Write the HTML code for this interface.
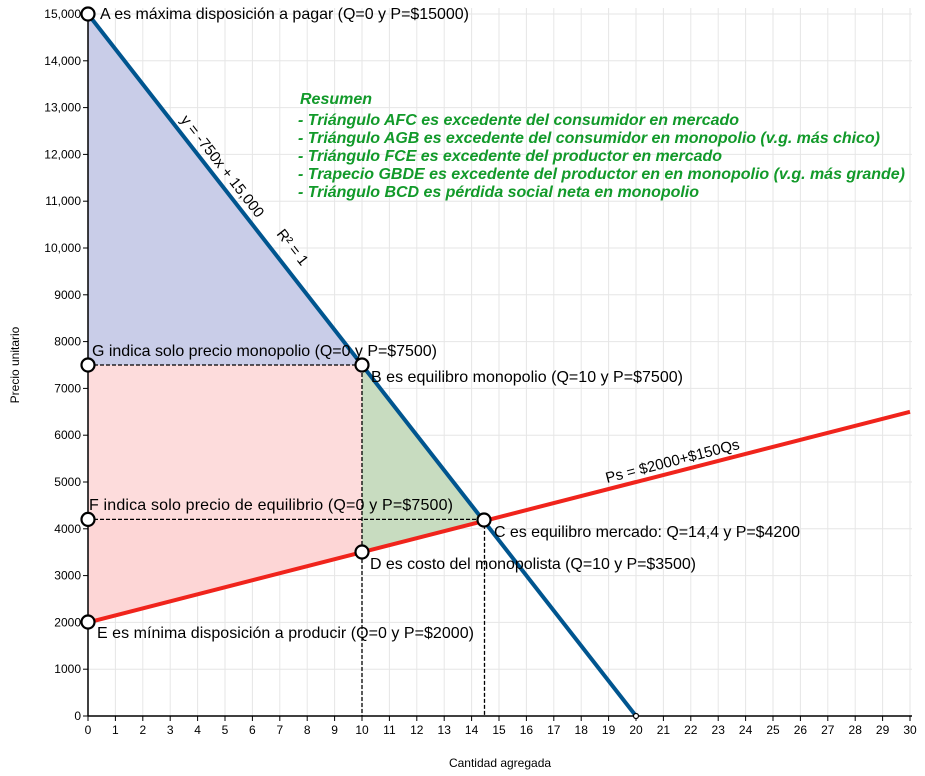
<!DOCTYPE html>
<html><head><meta charset="utf-8"><style>body{margin:0;background:#fff}svg{display:block;font-family:"Liberation Sans",sans-serif}</style></head><body>
<svg width="925" height="776" viewBox="0 0 925 776" xmlns="http://www.w3.org/2000/svg">
<g id="grid" stroke="#e6e6e6" stroke-width="1"></g>
<polygon points="88,14 362,365 88,365" fill="#c9cde8"/>
<polygon points="88,365 362,365 362,552.2 88,622.4" fill="#fddcdc"/>
<polygon points="362,365 482.6,519.4 362,552.2" fill="#c8dcc0"/>
<polygon points="88,519.4 362,519.4 362,552.2 88,622.4" fill="#fdd0d0" opacity="0.5"/>
<g stroke="#000" stroke-width="1.3" stroke-dasharray="4,2" fill="none">
<path d="M88,365H362V716"/><path d="M88,519.4H484.5V716"/>
</g>
<line x1="88" y1="622.4" x2="910" y2="411.8" stroke="#f0241c" stroke-width="4"/>
<line x1="88" y1="14" x2="636" y2="716" stroke="#00558f" stroke-width="4"/>
<g stroke="#000" stroke-width="1.5"><line x1="88" y1="8" x2="88" y2="716"/><line x1="88" y1="716" x2="912" y2="716"/></g>
<g id="ticks" stroke="#000" stroke-width="1"></g>
<g id="lbl" font-size="12" fill="#000"></g>
<g fill="#fff" stroke="#000" stroke-width="2.2">
<circle cx="88" cy="14" r="6.5"/><circle cx="88" cy="365" r="6.5"/><circle cx="362" cy="365" r="6.5"/>
<circle cx="88" cy="519.4" r="6.5"/><circle cx="484" cy="520" r="6.5"/><circle cx="362" cy="552" r="6.5"/>
<circle cx="88" cy="622" r="6.5"/><circle cx="636" cy="716" r="2.5" stroke-width="1.2"/>
</g>
<g font-size="16" fill="#000">
<text x="100" y="19" textLength="369">A es máxima disposición a pagar (Q=0 y P=$15000)</text>
<text x="92" y="356" textLength="345">G indica solo precio monopolio (Q=0 y P=$7500)</text>
<text x="371" y="382" textLength="312">B es equilibro monopolio (Q=10 y P=$7500)</text>
<text x="89" y="510" textLength="364">F indica solo precio de equilibrio (Q=0 y P=$7500)</text>
<text x="494" y="537" textLength="306">C es equilibro mercado: Q=14,4 y P=$4200</text>
<text x="370" y="569" textLength="326">D es costo del monopolista (Q=10 y P=$3500)</text>
<text x="97" y="638" textLength="377">E es mínima disposición a producir  (Q=0 y P=$2000)</text>
<text transform="translate(180,120) rotate(52)" font-size="15">y = -750x + 15,000</text>
<text transform="translate(276,234) rotate(52)" font-size="15">R² = 1</text>
<text transform="translate(607,483) rotate(-14.4)" font-size="15">Ps = $2000+$150Qs</text>
</g>
<g font-size="16" font-weight="bold" font-style="italic" fill="#129a2a">
<text x="300" y="104">Resumen</text>
<text x="298" y="125" textLength="441">- Triángulo AFC es excedente del consumidor en mercado</text>
<text x="298" y="143" textLength="582">- Triángulo AGB es excedente del consumidor en monopolio (v.g. más chico)</text>
<text x="298" y="161" textLength="424">- Triángulo FCE es excedente del productor en mercado</text>
<text x="298" y="179" textLength="607">- Trapecio GBDE es excedente del productor en en monopolio (v.g. más grande)</text>
<text x="298" y="197" textLength="401">- Triángulo BCD es pérdida social neta en monopolio</text>
</g>
<text x="500" y="767" font-size="12" text-anchor="middle">Cantidad agregada</text>
<text transform="translate(19,365) rotate(-90)" font-size="12" text-anchor="middle">Precio unitario</text>
<script>
var ns="http://www.w3.org/2000/svg",g=document.getElementById("grid"),t=document.getElementById("ticks"),l=document.getElementById("lbl");
function mk(p,tag,a,txt){var e=document.createElementNS(ns,tag);for(var k in a)e.setAttribute(k,a[k]);if(txt!=null)e.textContent=txt;p.appendChild(e);}
for(var q=0;q<=30;q++){var x=88+27.4*q;if(q>0)mk(g,"line",{x1:x,y1:8,x2:x,y2:716});mk(t,"line",{x1:x,y1:716,x2:x,y2:721});mk(l,"text",{x:x,y:734,"text-anchor":"middle"},q);}
for(var p=0;p<=15;p++){var y=716-46.8*p;if(p>0)mk(g,"line",{x1:88,y1:y,x2:912,y2:y});mk(t,"line",{x1:83,y1:y,x2:88,y2:y});var s=p>=10?(p+",000"):String(p*1000);mk(l,"text",{x:81,y:y+4,"text-anchor":"end"},s);}
</script>
</svg>
</body></html>
